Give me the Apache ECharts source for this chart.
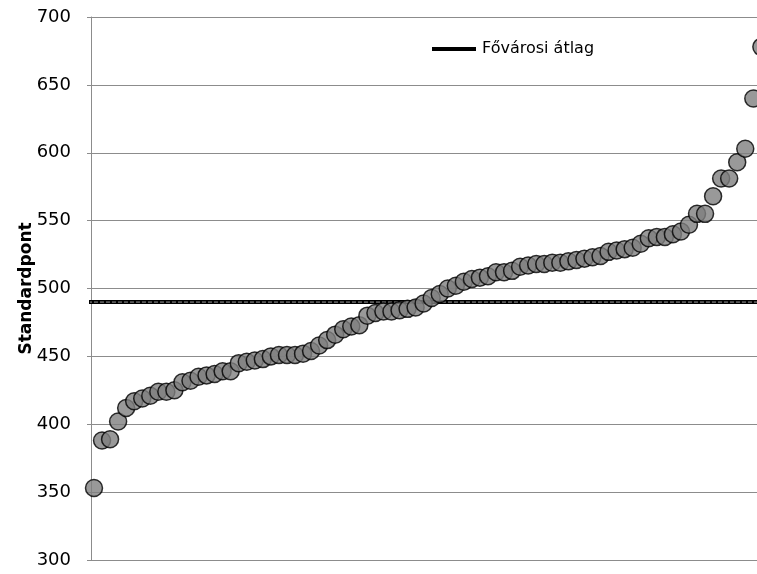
<!DOCTYPE html>
<html>
<head>
<meta charset="utf-8">
<script src="https://cdn.jsdelivr.net/npm/echarts@6/dist/echarts.min.js"></script>
<style>
  html, body { margin: 0; padding: 0; background: #fff; }
  #chart { width: 757px; height: 574px; }
</style>
</head>
<body>
<div id="chart"></div>
<script>
// schools sorted by score, one point each
const scores = [
  353, 388, 389, 402, 412, 417, 419, 421, 424, 424,
  425, 431, 432, 435, 436, 437, 439, 439, 445, 446,
  447, 448, 450, 451, 451, 451, 452, 454, 458, 462,
  466, 470, 472, 473, 480, 482, 483, 483, 484, 485,
  486, 489, 493, 496, 500, 502, 505, 507, 508, 509,
  512, 512, 513, 516, 517, 518, 518, 519, 519, 520,
  521, 522, 523, 524, 527, 528, 529, 530, 533, 537,
  538, 538, 540, 542, 547, 555, 555, 568, 581, 581,
  593, 603, 640, 678
];
const cityAverage = 490;
const averageLabel = 'Fővárosi átlag';
const yTitle = 'Standardpont';

const points = scores.map((v, i) => [i + 1, v]);
const averageLine = [[0.25, cityAverage], [200, cityAverage]];

const chart = echarts.init(document.getElementById('chart'));

chart.setOption({
  animation: false,
  textStyle: { fontFamily: '"DejaVu Sans", sans-serif' },
  grid: { left: 91, right: 0, top: 17, bottom: 14 },
  legend: {
    data: [{ name: averageLabel, icon: 'rect' }],
    left: 427,
    top: 36,
    itemWidth: 44,
    itemHeight: 4,
    itemGap: 2,
    textStyle: { fontSize: 16, color: '#000', padding: [0, 0, 0, 1] }
  },
  xAxis: {
    type: 'value',
    min: 0.627,
    max: 83.46,
    show: false
  },
  yAxis: {
    type: 'value',
    min: 300,
    max: 700,
    interval: 50,
    name: yTitle,
    nameLocation: 'middle',
    nameGap: 56,
    nameMoveOverlap: false,
    nameTextStyle: { fontSize: 17, fontWeight: 'bold', color: '#000' },
    axisLine: { show: true, lineStyle: { color: '#8c8c8c', width: 1 } },
    axisTick: { show: true, length: 4, lineStyle: { color: '#8c8c8c' } },
    axisLabel: { fontSize: 18, color: '#000', margin: 20 },
    splitLine: { lineStyle: { color: '#8c8c8c', width: 1 } }
  },
  series: [
    {
      name: averageLabel,
      type: 'line',
      data: averageLine,
      symbol: 'none',
      clip: false,
      lineStyle: { color: '#000', width: 4 },
      itemStyle: { color: '#000' },
      z: 2
    },
    {
      name: 'inner',
      type: 'line',
      data: averageLine,
      symbol: 'none',
      clip: false,
      lineStyle: { color: '#9a9a9a', width: 1, type: [4, 2] },
      z: 3
    },
    {
      name: 'scores',
      type: 'scatter',
      data: points,
      symbol: 'circle',
      symbolSize: 17,
      clip: false,
      itemStyle: { color: '#808080', borderColor: '#000', borderWidth: 1.5 },
      z: 4
    }
  ]
});
</script>
</body>
</html>
